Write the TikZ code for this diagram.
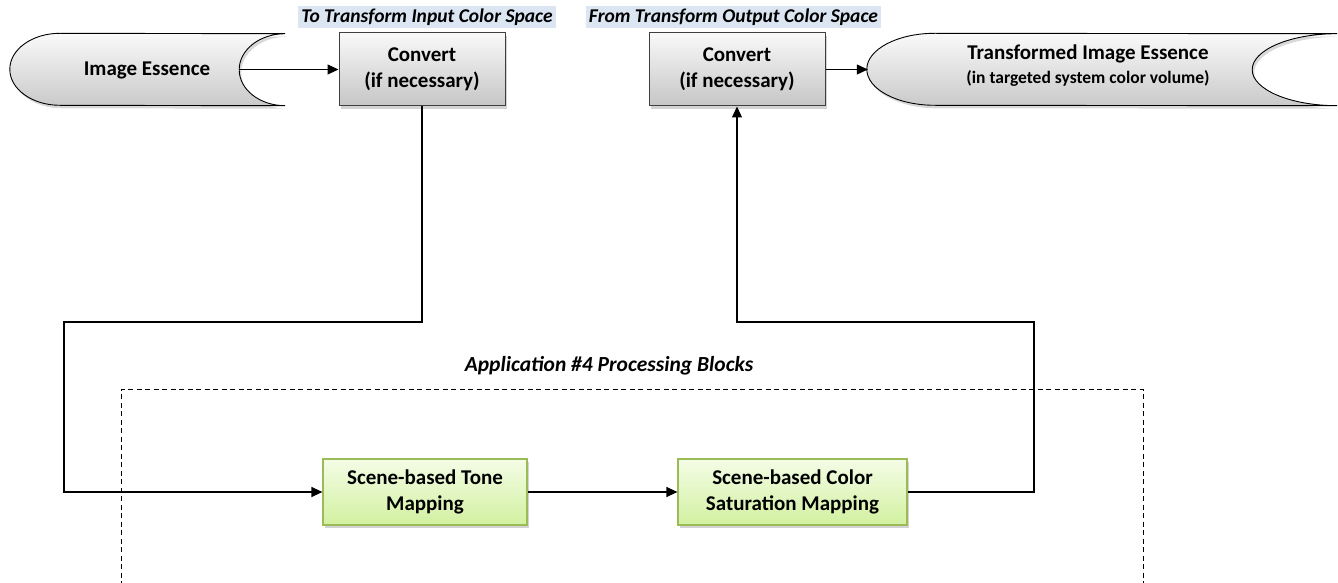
\documentclass[tikz,border=0pt]{standalone}
\usepackage{fontspec}
\setmainfont{Carlito}
\usetikzlibrary{arrows.meta,shadows,calc}
\definecolor{lblbg}{HTML}{DCE6F2}
\definecolor{grnborder}{HTML}{9BBB59}
\definecolor{grntop}{HTML}{F4FCE6}
\definecolor{grnbot}{HTML}{D2F1A0}
\definecolor{edge}{HTML}{3F3F3F}
\tikzset{
  body/.style={font=\bfseries\fontsize{21}{26}\selectfont},
  graybox/.style={body, draw=edge, line width=1pt, top color=gray!5, bottom color=gray!45,
     align=center, inner sep=0pt, drop shadow={opacity=0.35,shadow xshift=2pt,shadow yshift=-3pt}},
  greenbox/.style={body, draw=grnborder, line width=1.2pt, top color=grntop, bottom color=grnbot,
     align=center, inner sep=0pt, drop shadow={opacity=0.35,shadow xshift=2pt,shadow yshift=-3pt}},
  tag/.style={fill=lblbg, font=\bfseries\itshape\fontsize{19.5}{23}\selectfont, inner xsep=3pt, inner ysep=3pt},
  holder/.style={minimum height=72pt, inner sep=0pt},
  storefill/.style={draw=black, line width=0.9pt, top color=gray!4, bottom color=gray!42,
     drop shadow={opacity=0.3,shadow xshift=2pt,shadow yshift=-3pt}},
  arr/.style={-{Triangle[length=11pt,width=10pt]}, line width=1.2pt},
  frame/.style={line width=0.9pt, dash pattern=on 5pt off 3.5pt},
}
\begin{document}
\begin{tikzpicture}[x=1pt,y=1pt]
\useasboundingbox (0,0) rectangle (1338,-583);
\clip (0,0) rectangle (1338,-583);

% Image Essence stored-data shape
\node[holder, minimum width=275pt] (ie) at (147.5,-69.5) {};
\path[storefill] ([xshift=50pt]ie.north west) arc[start angle=90,end angle=270,x radius=50,y radius=36]
   -- (ie.south east) arc[start angle=270,end angle=90,x radius=46,y radius=36] -- cycle;
\node[body] (ietext) at (147,-70) {Image Essence};

% Transformed Image Essence
\node[holder, minimum width=470pt] (tie) at (1102,-69.5) {};
\path[storefill] ([xshift=68pt]tie.north west) arc[start angle=90,end angle=270,x radius=68,y radius=36]
   -- (tie.south east) arc[start angle=270,end angle=90,x radius=85,y radius=36] -- cycle;
\node[align=center, font=\bfseries\fontsize{21}{27}\selectfont] (tietext) at (1088,-66)
   {Transformed Image Essence\\[-3pt]
    {\fontsize{17.5}{22}\selectfont (in targeted system color volume)}};

% Convert boxes
\node[graybox, minimum width=166pt, minimum height=73pt] (cv1) at (422,-69.5) {Convert\\(if necessary)};
\node[graybox, minimum width=176pt, minimum height=73pt] (cv2) at (737,-69.5) {Convert\\(if necessary)};

% Labels
\node[tag] (lab1) at (427,-17) {To Transform Input Color Space};
\node[tag] (lab2) at (733.5,-17) {From Transform Output Color Space};

% Processing block frame
\draw[frame] (121,-620) -- (121,-389) -- (1143,-389) -- (1143,-620);
\node[font=\bfseries\itshape\fontsize{21.5}{25}\selectfont] (applab) at (609,-366) {Application \#4 Processing Blocks};

% Green boxes
\node[greenbox, minimum width=204pt, minimum height=66pt] (tone) at (425,-492) {Scene-based Tone\\Mapping};
\node[greenbox, minimum width=229pt, minimum height=66pt] (sat) at (792.5,-492) {Scene-based Color\\Saturation Mapping};

% Connectors
\coordinate (k1) at (64,-322);
\coordinate (k2) at (1034,-322);
\draw[arr] ([xshift=-46pt]ie.east) -- (cv1.west);
\draw[arr] (cv1.south) |- (k1) |- (tone.west);
\draw[arr] (tone.east) -- (sat.west);
\draw[arr] (sat.east) -| (k2) -| (cv2.south);
\draw[arr] (cv2.east) -- ([xshift=1pt]tie.west);
\end{tikzpicture}
\end{document}
